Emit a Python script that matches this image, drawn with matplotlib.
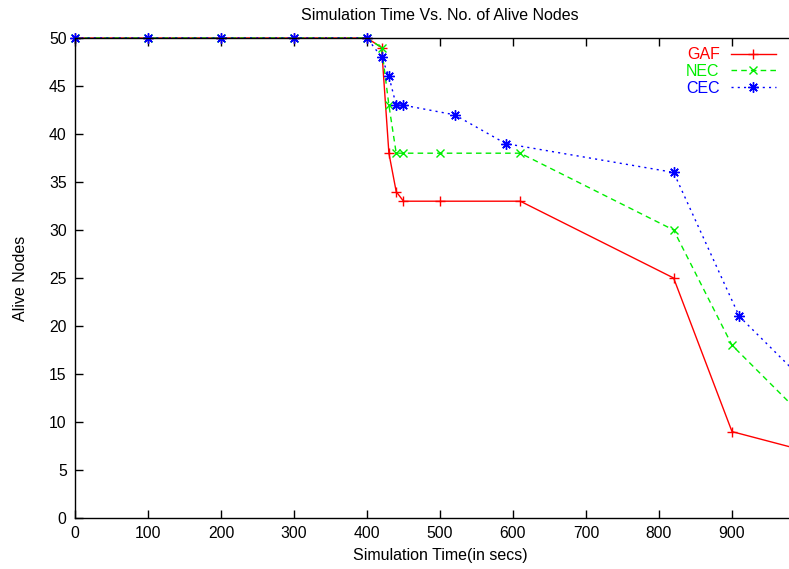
import matplotlib
matplotlib.use("Agg")
import matplotlib.pyplot as plt

plt.rcParams['font.family'] = ['Liberation Sans', 'DejaVu Sans']

# Simulation time (s) and number of alive nodes for each protocol
time_gaf = [0, 100, 200, 300, 400, 420, 430, 440, 450, 500, 610, 820, 900, 1000]
alive_gaf = [50, 50, 50, 50, 50, 49, 38, 34, 33, 33, 33, 25, 9, 7]

time_nec = [0, 100, 200, 300, 400, 420, 430, 440, 450, 500, 610, 820, 900, 1000]
alive_nec = [50, 50, 50, 50, 50, 49, 43, 38, 38, 38, 38, 30, 18, 10.4]

time_cec = [0, 100, 200, 300, 400, 420, 430, 440, 450, 520, 590, 820, 910, 1000]
alive_cec = [50, 50, 50, 50, 50, 48, 46, 43, 43, 42, 39, 36, 21, 14.2]

x_ticks = [0, 100, 200, 300, 400, 500, 600, 700, 800, 900]
y_ticks = [0, 5, 10, 15, 20, 25, 30, 35, 40, 45, 50]

W, H = 789, 569
fig = plt.figure(figsize=(W / 100, H / 100), dpi=100)
# plot frame runs to x=1000, slightly past the right edge of the canvas
ax = fig.add_axes([75 / W, (H - 518) / H, 730 / W, 480 / H])

asterisk = (8, 2, 0)
ax.plot(time_gaf, alive_gaf, color='#ff0000', lw=1.0, ls='-',
        marker='+', ms=7.5, mew=1.0, label='GAF', clip_on=False)
ax.plot(time_nec, alive_nec, color='#00ee00', lw=1.0, ls=(0, (4, 3)),
        marker='x', ms=6, mew=1.0, label='NEC', clip_on=False)
ax.plot(time_cec, alive_cec, color='#0000ff', lw=1.0, ls=(0, (1.5, 3)),
        marker=asterisk, ms=7.5, mew=1.0, label='CEC', clip_on=False)

ax.set_xlim(0, 1000)
ax.set_ylim(0, 50)
ax.set_xticks(x_ticks)
ax.set_yticks(y_ticks)
ax.tick_params(direction='in', length=6, width=1, labelsize=11.3,
               top=True, right=True, pad=6)
for s in ax.spines.values():
    s.set_linewidth(1.0)

ax.set_title('Simulation Time Vs. No. of Alive Nodes', fontsize=11.5, pad=13)
ax.set_xlabel('Simulation Time(in secs)', fontsize=11.5, labelpad=5)
ax.set_ylabel('Alive Nodes', fontsize=11.5, labelpad=15)

leg = fig.legend(loc='upper right', bbox_to_anchor=(782 / W, 1 - 41 / H),
                 frameon=False, markerfirst=False, handlelength=2.8,
                 numpoints=1, fontsize=11.5, labelspacing=0.1,
                 handletextpad=0.7, borderaxespad=0)
for txt, line in zip(leg.get_texts(), leg.get_lines()):
    txt.set_color(line.get_color())
    txt.set_ha('right')

fig.savefig('out.png', dpi=100)
